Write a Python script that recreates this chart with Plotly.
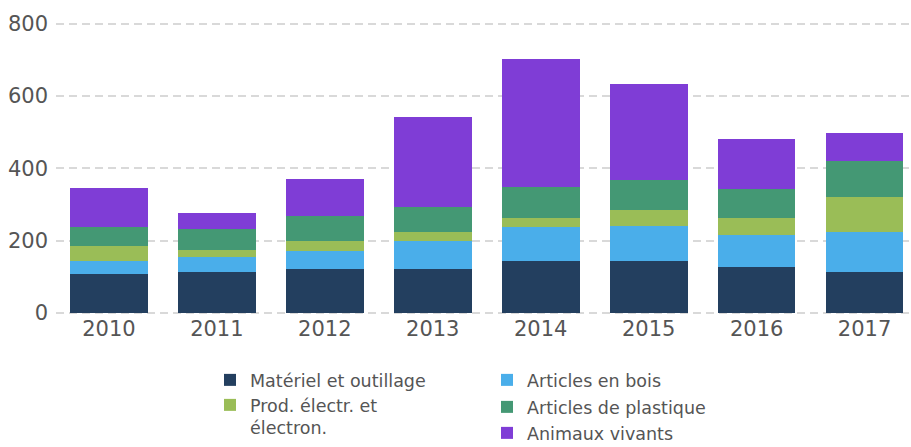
import plotly.graph_objects as go

years = ["2010", "2011", "2012", "2013", "2014", "2015", "2016", "2017"]
materiel = [108, 114, 122, 122, 144, 144, 128, 114]
bois = [36, 40, 50, 77, 94, 97, 88, 110]
prod = [41, 21, 28, 25, 25, 44, 47, 97]
plastique = [53, 58, 69, 69, 86, 83, 80, 99]
animaux = [107, 44, 102, 248, 353, 265, 138, 77]

series_names = ["Matériel et outillage", "Articles en bois",
                "Prod. électr. et<br>électron.", "Articles de plastique",
                "Animaux vivants"]
series_values = [materiel, bois, prod, plastique, animaux]
colors = ["#233f5f", "#4aaeea", "#9abd57", "#449874", "#7f3dd6"]
# legend placement (text left x, text center y) in pixels
leg_pos = [(210, 380), (487, 380), (210, 416.5), (487, 407), (487, 433)]

W, H = 911, 447
fig = go.Figure()
legends = {}
for i, (name, vals, color) in enumerate(zip(series_names, series_values, colors)):
    key = "legend" if i == 0 else f"legend{i + 1}"
    fig.add_trace(go.Bar(x=years, y=vals, name=name, marker_color=color,
                         marker_line_width=0, legend=key, showlegend=True))
    lx, ly = leg_pos[i]
    legends[key] = dict(xref="container", yref="container", x=lx / W, y=1 - ly / H,
                        xanchor="left", yanchor="middle", visible=True,
                        valign="top",
                        font=dict(size=17.5, color="#555555"),
                        bgcolor="rgba(0,0,0,0)", itemwidth=30)

fig.update_layout(
    barmode="stack",
    bargap=0.28,
    showlegend=True,
    width=W, height=H,
    margin=dict(l=56, r=0, t=21.5, b=132.6, autoexpand=False),
    plot_bgcolor="white", paper_bgcolor="white",
    font=dict(family="DejaVu Sans, Verdana, sans-serif", color="#555555"),
    xaxis=dict(range=[-0.49, 7.43], tickfont=dict(size=21), showgrid=False,
               showline=False, ticks="", automargin=False),
    yaxis=dict(range=[-3, 805], tickvals=[0, 200, 400, 600, 800],
               tickfont=dict(size=21),
               gridcolor="#d9d9d9", griddash="8px,5px", gridwidth=1.5,
               zeroline=False, ticks="", ticklabelstandoff=7,
               automargin=False),
    **legends,
)
fig.write_html("out.html", config={"displayModeBar": False},
               post_script="document.body.style.margin='0';")
